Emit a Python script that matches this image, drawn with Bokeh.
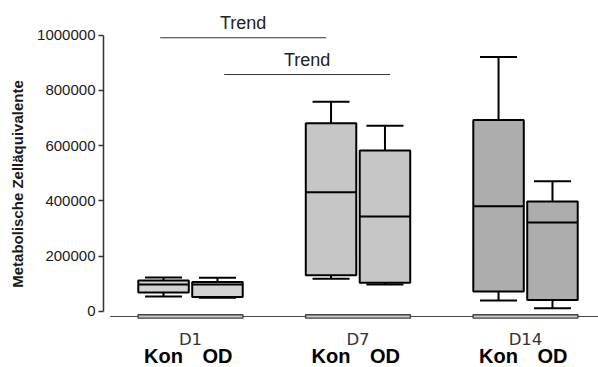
from bokeh.plotting import figure
from bokeh.models import Range1d, FixedTicker, ColumnDataSource
from bokeh.core.properties import value
from bokeh.embed import file_html
from bokeh.resources import INLINE

# ---- data -------------------------------------------------------------
days = ["D1", "D7", "D14"]
groups = ["Kon", "OD"]

# box statistics per day, Kon then OD
kon_whisk_lo = [54000, 118000, 40000]
kon_q1 = [69000, 131000, 72000]
kon_median = [98000, 431000, 381000]
kon_q3 = [112000, 681000, 693000]
kon_whisk_hi = [123000, 759000, 920000]

od_whisk_lo = [50000, 98000, 12000]
od_q1 = [52000, 104000, 42000]
od_median = [98000, 344000, 322000]
od_q3 = [107000, 582000, 398000]
od_whisk_hi = [122000, 672000, 471000]

day_fill = ["#d2d2d2", "#c6c6c6", "#adadad"]

y_ticks = [0, 200000, 400000, 600000, 800000, 1000000]

trend_label = "Trend"

# ---- layout constants ----------------------------------------------------
W, H = 598, 367
LEFT = 103
OFFSET = 0.161      # box centre offset from day centre (group units)
BOX_W = 0.3015
CAP_W = 0.221
BASE_Y = -18000     # level of the baseline under the groups

p = figure(width=W, height=H, output_backend="svg", toolbar_location=None,
           x_axis_type=None, title=None,
           x_range=Range1d(0.4806, 3.4358), y_range=Range1d(-202532, 1124774),
           min_border_left=LEFT, min_border_right=0, min_border_top=0,
           min_border_bottom=0)
p.outline_line_color = None
p.xgrid.visible = False
p.ygrid.visible = False
p.background_fill_color = "white"
p.border_fill_color = "white"

# y axis (offset style, line only spans tick range)
ax = p.yaxis[0]
ax.bounds = (0, 1000000)
ax.ticker = FixedTicker(ticks=y_ticks)
ax.minor_tick_line_color = None
ax.major_tick_in = 0
ax.major_tick_out = 5
ax.major_tick_line_color = "#333333"
ax.major_tick_line_width = 1.5
ax.axis_line_color = "#333333"
ax.axis_line_width = 1.5
ax.major_label_text_font = "Liberation Sans"
ax.major_label_text_font_size = "15px"
ax.major_label_text_color = "#1a1a1a"
ax.major_label_standoff = 3
ax.formatter.use_scientific = False
ax.axis_label = "Metabolische Zelläquivalente"
ax.axis_label_text_font = "Liberation Sans"
ax.axis_label_text_font_style = "bold"
ax.axis_label_text_font_size = "15px"
ax.axis_label_text_color = "#1a1a1a"
ax.axis_label_standoff = 8

day_x = [i + 1 for i in range(len(days))]

# baseline along the bottom with a hollow bar under each day
p.segment(x0=[day_x[0] - 0.48], x1=[3.45], y0=[BASE_Y], y1=[BASE_Y],
          line_color="#444444", line_width=1)
p.quad(left=[d - 0.313 for d in day_x], right=[d + 0.313 for d in day_x],
       bottom=[BASE_Y - 6000] * 3, top=[BASE_Y + 6000] * 3,
       fill_color="#c8c8c8", line_color="#444444", line_width=1.4)


def draw_boxes(xs, lo, q1, med, q3, hi):
    src = ColumnDataSource(dict(x=xs, lo=lo, q1=q1, med=med, q3=q3, hi=hi,
                                fill=day_fill,
                                xl=[x - BOX_W / 2 for x in xs],
                                xr=[x + BOX_W / 2 for x in xs],
                                cl=[x - CAP_W / 2 for x in xs],
                                cr=[x + CAP_W / 2 for x in xs]))
    # whiskers
    p.segment(x0="x", x1="x", y0="q3", y1="hi", source=src,
              line_color="black", line_width=2)
    p.segment(x0="x", x1="x", y0="lo", y1="q1", source=src,
              line_color="black", line_width=2)
    p.segment(x0="cl", x1="cr", y0="hi", y1="hi", source=src,
              line_color="black", line_width=2)
    p.segment(x0="cl", x1="cr", y0="lo", y1="lo", source=src,
              line_color="black", line_width=2)
    # boxes
    p.vbar(x="x", width=BOX_W, bottom="q1", top="q3", source=src,
           fill_color="fill", line_color="black", line_width=2)
    # medians
    p.segment(x0="xl", x1="xr", y0="med", y1="med", source=src,
              line_color="black", line_width=2)


draw_boxes([d - OFFSET for d in day_x], kon_whisk_lo, kon_q1, kon_median,
           kon_q3, kon_whisk_hi)
draw_boxes([d + OFFSET for d in day_x], od_whisk_lo, od_q1, od_median,
           od_q3, od_whisk_hi)

# day labels and group labels below the baseline
p.text(x=day_x, y=[-99500] * 3, text=days, text_align="center",
       text_baseline="middle", text_font=value("DejaVu Sans"),
       text_font_size="16.5px", text_color="#333333")
grp_x = [d - OFFSET for d in day_x] + [d + OFFSET for d in day_x]
grp_t = [groups[0]] * 3 + [groups[1]] * 3
p.text(x=grp_x, y=[-162700] * 6, text=grp_t, text_align="center",
       text_baseline="middle", text_font=value("Liberation Sans"),
       text_font_style="bold", text_font_size="20px", text_color="black")

# trend brackets: D1 vs D7 for each group
br_x0 = [day_x[0] - OFFSET - 0.02, day_x[0] + OFFSET + 0.04]
br_x1 = [day_x[1] - OFFSET - 0.03, day_x[1] + OFFSET + 0.03]
br_y = [990000, 857000]
p.segment(x0=br_x0, x1=br_x1, y0=br_y, y1=br_y, line_color="#333333",
          line_width=1)
p.text(x=[(a + b) / 2 for a, b in zip(br_x0, br_x1)], y=br_y,
       text=[trend_label] * 2, text_align="center", text_baseline="bottom",
       y_offset=-5, text_font=value("Liberation Sans"),
       text_font_size="18px", text_color="#222222")

open("out.html", "w").write(file_html(p, INLINE))
